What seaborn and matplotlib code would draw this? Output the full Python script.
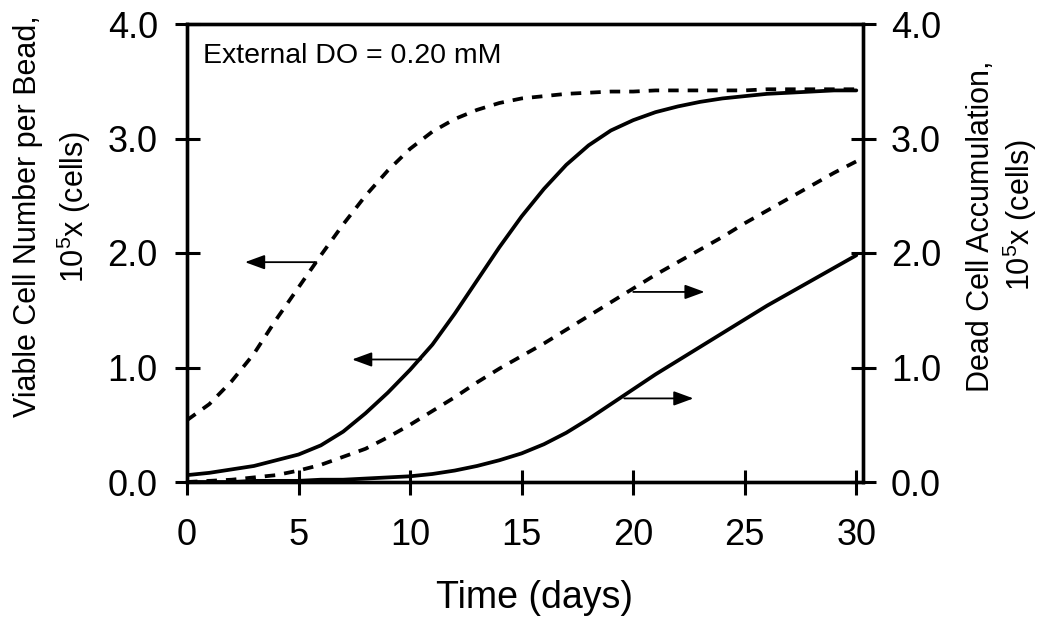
import matplotlib
matplotlib.use("Agg")
import matplotlib.pyplot as plt
import numpy as np
import pandas as pd
import seaborn as sns

# ---------------- data ----------------
days = list(range(0, 31))

viable_dashed = [0.54, 0.68, 0.88, 1.12, 1.42, 1.70, 1.98, 2.25, 2.50, 2.72,
                 2.91, 3.06, 3.17, 3.25, 3.31, 3.35, 3.37, 3.39, 3.40, 3.41,
                 3.41, 3.42, 3.42, 3.42, 3.42, 3.42, 3.43, 3.43, 3.43, 3.43, 3.43]

viable_solid = [0.06, 0.08, 0.11, 0.14, 0.19, 0.24, 0.32, 0.44, 0.60, 0.78,
                0.98, 1.20, 1.47, 1.76, 2.05, 2.32, 2.56, 2.77, 2.94, 3.07,
                3.16, 3.23, 3.28, 3.32, 3.35, 3.37, 3.39, 3.40, 3.41, 3.42, 3.42]

dead_dashed = [0.00, 0.01, 0.02, 0.04, 0.06, 0.10, 0.15, 0.22, 0.29, 0.39,
               0.50, 0.62, 0.74, 0.87, 0.99, 1.10, 1.21, 1.33, 1.45, 1.57,
               1.69, 1.81, 1.92, 2.03, 2.14, 2.26, 2.37, 2.48, 2.59, 2.70, 2.80]

dead_solid = [0.00, 0.00, 0.00, 0.01, 0.01, 0.01, 0.02, 0.02, 0.03, 0.04,
              0.05, 0.07, 0.10, 0.14, 0.19, 0.25, 0.33, 0.43, 0.55, 0.68,
              0.81, 0.94, 1.06, 1.18, 1.30, 1.42, 1.54, 1.65, 1.76, 1.87, 1.98]

x_ticks = [0, 5, 10, 15, 20, 25, 30]
y_ticks = [0.0, 1.0, 2.0, 3.0, 4.0]
y_tick_labels = ["0.0", "1.0", "2.0", "3.0", "4.0"]

# arrows: (tail_x, head_x, y)
arrow_tail_x = [5.8, 10.5, 20.0, 19.6]
arrow_head_x = [2.6, 7.4, 23.2, 22.7]
arrow_y = [1.92, 1.07, 1.66, 0.73]

annotation_text = "External DO = 0.20 mM"

# ---------------- style ----------------
sns.set_style("ticks")
plt.rcParams["font.family"] = ["Liberation Sans", "DejaVu Sans"]
plt.rcParams["mathtext.default"] = "regular"
for k in ["text.color", "axes.labelcolor", "xtick.color", "ytick.color", "axes.edgecolor"]:
    plt.rcParams[k] = "black"

W, H = 1045, 622
fig = plt.figure(figsize=(W / 100, H / 100), dpi=100)
ax = fig.add_axes([187 / W, 1 - 482 / H, (863 - 187) / W, (482 - 24) / H])
ax2 = ax.twinx()

df_v = pd.DataFrame({"day": days, "dashed": viable_dashed, "solid": viable_solid})
df_d = pd.DataFrame({"day": days, "dashed": dead_dashed, "solid": dead_solid})

lw = 2.7
dash = (0, (2.8, 2.4))
sns.lineplot(data=df_v, x="day", y="dashed", ax=ax, color="black", lw=lw,
             linestyle=dash, legend=False)
sns.lineplot(data=df_v, x="day", y="solid", ax=ax, color="black", lw=lw, legend=False)
sns.lineplot(data=df_d, x="day", y="dashed", ax=ax2, color="black", lw=lw,
             linestyle=dash, legend=False)
sns.lineplot(data=df_d, x="day", y="solid", ax=ax2, color="black", lw=lw, legend=False)

for a in (ax, ax2):
    a.set_xlim(0, 30.3)
    a.set_ylim(0, 4.0)
    a.set_xlabel("")
    a.set_ylabel("")
    for s in a.spines.values():
        s.set_linewidth(2.4)
        s.set_visible(True)
        s.set_color("black")

tick_fs = 26
ax.set_xticks(x_ticks)
ax.set_xticklabels([str(v) for v in x_ticks], fontsize=tick_fs)
ax.set_yticks(y_ticks)
ax.set_yticklabels(y_tick_labels, fontsize=tick_fs)
ax2.set_yticks(y_ticks)
ax2.set_yticklabels(y_tick_labels, fontsize=tick_fs)

ax.tick_params(axis="both", direction="inout", length=18, width=2.2, color="black",
               labelcolor="black")
ax.tick_params(axis="y", pad=12)
ax.tick_params(axis="x", pad=17)
ax2.tick_params(axis="y", direction="inout", length=18, width=2.2, pad=11,
                color="black", labelcolor="black")

# arrows
for i in range(len(arrow_y)):
    ax.annotate("", xy=(arrow_head_x[i], arrow_y[i]), xytext=(arrow_tail_x[i], arrow_y[i]),
                arrowprops=dict(arrowstyle="-|>,head_length=0.6,head_width=0.22",
                                lw=1.3, color="black", mutation_scale=20,
                                shrinkA=0, shrinkB=0))

ax.text(0.72, 3.66, annotation_text, fontsize=20.5, ha="left", va="baseline", color="black")

# axis labels
lab_fs = 27
rot_fs = 22
fig.text(535 / W, 1 - 608 / H, "Time (days)", fontsize=lab_fs, ha="center", va="baseline")
fig.text(28 / W, 1 - 216 / H, "Viable Cell Number per Bead,", fontsize=rot_fs,
         rotation=90, ha="center", va="center")
fig.text(74 / W, 1 - 207 / H, "10$^5$x (cells)", fontsize=rot_fs,
         rotation=90, ha="center", va="center")
fig.text(981 / W, 1 - 226 / H, "Dead Cell Accumulation,", fontsize=rot_fs,
         rotation=90, ha="center", va="center")
fig.text(1020 / W, 1 - 215 / H, "10$^5$x (cells)", fontsize=rot_fs,
         rotation=90, ha="center", va="center")

fig.savefig("out.png", dpi=100, facecolor="white")
